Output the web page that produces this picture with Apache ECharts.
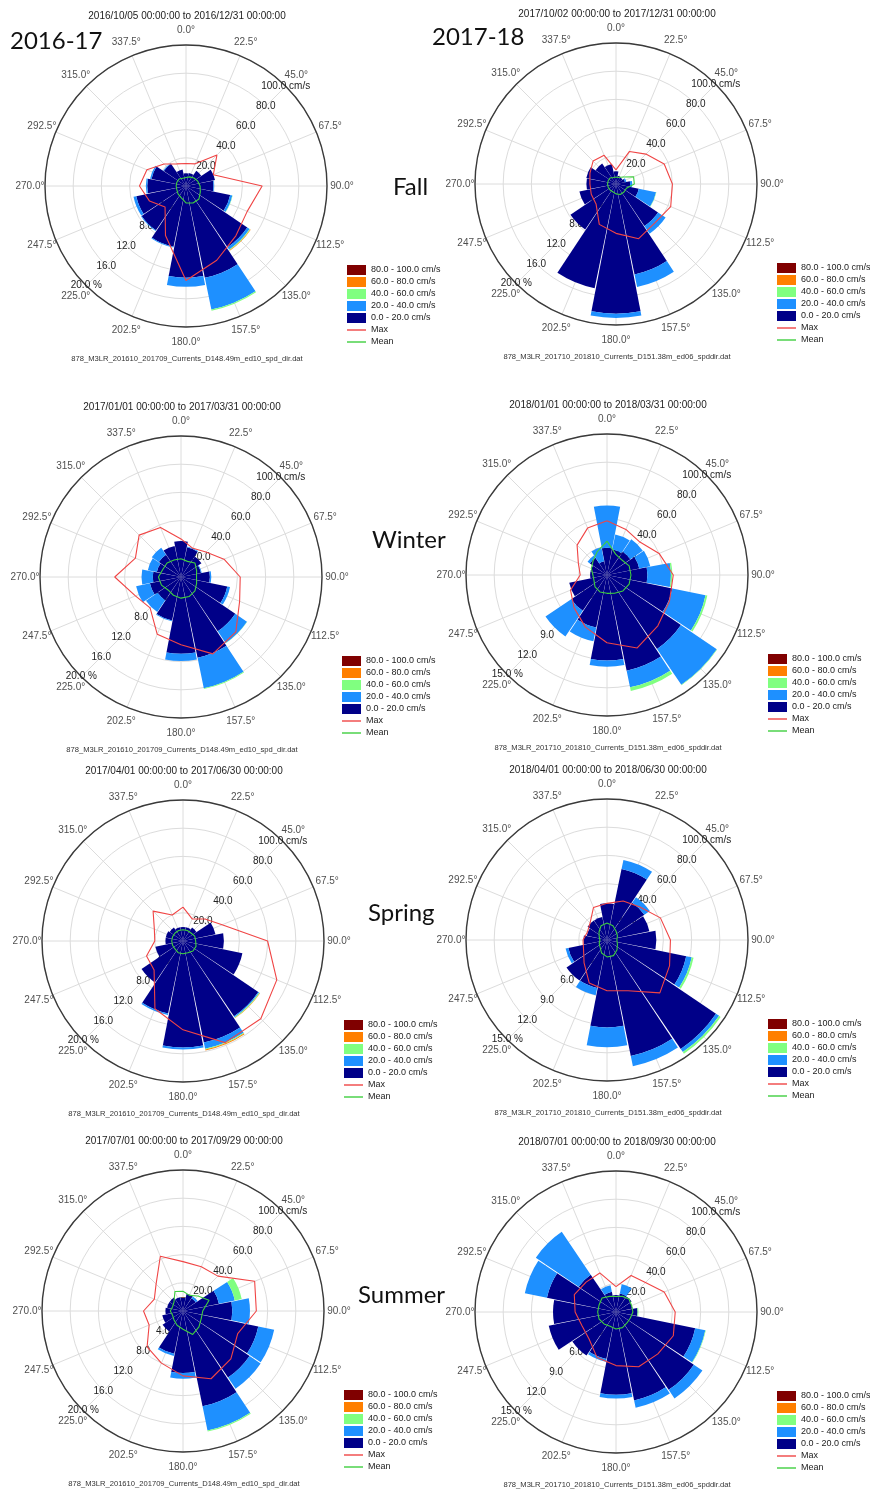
<!DOCTYPE html>
<html><head><meta charset="utf-8">
<script src="https://cdn.jsdelivr.net/npm/echarts@6/dist/echarts.min.js"></script>
<style>html,body{margin:0;padding:0;background:#fff;}#c{width:870px;height:1494px;}</style>
</head><body><div id="c"></div>
<script>
// ---------- data ----------
const DIRS = [0, 22.5, 45, 67.5, 90, 112.5, 135, 157.5, 180, 202.5, 225, 247.5, 270, 292.5, 315, 337.5];
const SPEED_CLASSES = ['0.0 - 20.0 cm/s', '20.0 - 40.0 cm/s', '40.0 - 60.0 cm/s', '60.0 - 80.0 cm/s', '80.0 - 100.0 cm/s'];
const LINE_NAMES = ['Max', 'Mean'];
const SPEED_TICK_MAX = 100;   // cm/s, outer ring
const SPEED_TICK_STEP = 20;

const TITLES = [
  '2016/10/05 00:00:00 to 2016/12/31 00:00:00', '2017/10/02 00:00:00 to 2017/12/31 00:00:00',
  '2017/01/01 00:00:00 to 2017/03/31 00:00:00', '2018/01/01 00:00:00 to 2018/03/31 00:00:00',
  '2017/04/01 00:00:00 to 2017/06/30 00:00:00', '2018/04/01 00:00:00 to 2018/06/30 00:00:00',
  '2017/07/01 00:00:00 to 2017/09/29 00:00:00', '2018/07/01 00:00:00 to 2018/09/30 00:00:00'
];
const FILE_A = '878_M3LR_201610_201709_Currents_D148.49m_ed10_spd_dir.dat';
const FILE_B = '878_M3LR_201710_201810_Currents_D151.38m_ed06_spddir.dat';
const PCT_MAX = [20, 20, 20, 15, 20, 15, 20, 15];
const YEAR_LABELS = ['2016-17', '2017-18'];
const SEASON_LABELS = ['Fall', 'Winter', 'Spring', 'Summer'];

const none80to100 = [0, 0, 0, 0, 0, 0, 0, 0, 0, 0, 0, 0, 0, 0, 0, 0];

// Fall 2016-17
const fall1617_0to20  = [1.8, 1.9, 2.6, 4.2, 3.9, 6.4, 10.5, 13.3, 13.0, 8.8, 7.6, 7.2, 5.5, 5.0, 3.8, 2.4];
const fall1617_20to40 = [0, 0, 0, 0, 0.1, 0.3, 0.4, 4.6, 1.3, 0.1, 0.1, 0.4, 0.2, 0.2, 0.1, 0];
const fall1617_40to60 = [0, 0, 0, 0, 0, 0.05, 0.1, 0.15, 0, 0, 0, 0, 0, 0, 0, 0];
const fall1617_60to80 = [0, 0, 0, 0, 0, 0, 0.08, 0, 0, 0, 0, 0, 0, 0, 0, 0];
const fall1617_max    = [16, 17, 31, 21, 54, 47, 50, 57, 67, 38, 21, 28, 33, 30, 22, 17];
const fall1617_mean   = [6, 7, 8, 9, 10, 11, 13, 13, 12, 9, 8, 7, 7, 7, 7, 6];

// Fall 2017-18
const fall1718_0to20  = [1.8, 1.2, 1.1, 1.3, 2.0, 3.3, 7.2, 13.1, 18.4, 15.1, 7.8, 5.3, 4.2, 4.3, 3.5, 2.9];
const fall1718_20to40 = [0, 0, 0, 0.2, 0.3, 2.5, 1.3, 1.8, 0.6, 0, 0, 0, 0, 0, 0, 0];
const fall1718_40to60 = [0, 0, 0, 0, 0, 0.05, 0, 0, 0, 0, 0, 0, 0, 0, 0, 0];
const fall1718_60to80 = [0, 0, 0, 0, 0, 0, 0, 0, 0, 0, 0, 0, 0, 0, 0, 0];
const fall1718_max    = [10, 25, 30, 37, 40, 42, 39, 42, 35, 31, 20, 19, 18.5, 20, 23, 22];
const fall1718_mean   = [5, 5, 7, 13.5, 13, 8, 8, 8, 7, 6, 6, 6, 6, 6, 6, 5];

// Winter 2016-17
const winter1617_0to20  = [5.1, 4.3, 3.5, 2.9, 4.1, 6.7, 9.3, 11.7, 10.9, 6.3, 4.0, 4.5, 4.0, 3.5, 3.8, 4.5];
const winter1617_20to40 = [0, 0.1, 0, 0.1, 0.2, 0.4, 2.0, 4.4, 1.0, 0.1, 2.0, 2.0, 1.6, 1.3, 1.2, 0];
const winter1617_40to60 = [0, 0, 0, 0, 0, 0, 0.05, 0.12, 0, 0, 0, 0, 0, 0, 0, 0];
const winter1617_60to80 = [0, 0, 0, 0, 0, 0, 0, 0, 0, 0, 0, 0, 0, 0, 0, 0];
const winter1617_max    = [27, 22, 25, 33, 42, 45, 55, 59, 48, 44, 31, 35, 47, 35, 42, 38];
const winter1617_mean   = [13, 12, 14, 12, 11, 12, 14, 15, 15, 14, 13, 15, 16, 14, 14, 13];

// Winter 2017-18
const winter1718_0to20  = [2.9, 2.8, 3.0, 3.5, 4.3, 7.1, 9.5, 10.4, 9.1, 5.7, 4.6, 4.1, 1.8, 1.8, 2.2, 1.5];
const winter1718_20to40 = [4.5, 1.6, 1.6, 1.2, 2.5, 3.6, 4.6, 1.8, 0.65, 1.5, 3.3, 0, 0, 0, 0.3, 1.5];
const winter1718_40to60 = [0, 0, 0, 0, 0.15, 0.2, 0.05, 0.4, 0, 0, 0, 0, 0, 0, 0, 0];
const winter1718_60to80 = [0, 0, 0, 0, 0, 0, 0, 0, 0, 0, 0, 0, 0, 0, 0, 0];
const winter1718_max    = [38.5, 35, 33, 40, 47, 48, 51, 56, 48, 40, 33, 28, 19, 22, 30, 36];
const winter1718_mean   = [24, 16, 15, 17, 17, 17, 16, 14, 13, 13, 12, 10, 10, 12, 14, 18];

// Spring 2016-17
const spring1617_0to20  = [2.0, 2.0, 2.3, 4.7, 5.8, 8.6, 12.9, 14.7, 15.1, 10.5, 7.1, 4.0, 2.5, 2.5, 2.3, 2.0];
const spring1617_20to40 = [0, 0, 0, 0, 0, 0, 0.15, 0.9, 0.3, 0.2, 0, 0, 0, 0, 0, 0];
const spring1617_40to60 = [0, 0, 0, 0, 0, 0, 0.1, 0.1, 0, 0, 0, 0, 0, 0, 0, 0];
const spring1617_60to80 = [0, 0, 0, 0, 0, 0, 0.05, 0.15, 0, 0, 0, 0, 0, 0, 0, 0];
const spring1617_max    = [24, 17, 22, 30, 60, 72, 78, 78, 63, 52, 29, 28, 20, 22, 30, 20];
const spring1617_mean   = [8, 8, 8, 9, 9, 10, 10, 9, 9, 9, 8, 8, 8, 8, 8, 8];

// Spring 2017-18
const spring1718_0to20  = [3.9, 7.7, 4.8, 4.6, 5.25, 8.6, 14.0, 12.6, 9.3, 5.2, 5.2, 4.2, 2.5, 2.2, 2.5, 2.5];
const spring1718_20to40 = [0, 1.0, 0.7, 0, 0, 0.6, 0.4, 1.1, 2.1, 0.8, 0, 0.3, 0, 0, 0, 0];
const spring1718_40to60 = [0, 0, 0, 0, 0, 0.2, 0.2, 0, 0, 0, 0, 0, 0, 0, 0, 0];
const spring1718_60to80 = [0, 0, 0, 0, 0, 0, 0, 0, 0, 0, 0, 0, 0, 0, 0, 0];
const spring1718_max    = [26, 30, 33, 41, 45, 48, 53, 39, 36, 33, 23, 18, 17, 15, 17, 25];
const spring1718_mean   = [12, 11, 9, 8, 7, 8, 10, 12, 12, 10, 7, 6, 5, 6, 8, 11];

// Summer 2016-17
const summer1617_0to20  = [2.0, 2.5, 2.2, 5.2, 7.0, 10.9, 11.4, 13.8, 8.8, 6.2, 3.5, 3.0, 2.5, 2.3, 2.3, 2.0];
const summer1617_20to40 = [0, 0, 0.3, 2.3, 2.5, 2.3, 1.9, 3.5, 0.8, 0.3, 0, 0, 0, 0, 0, 0];
const summer1617_40to60 = [0, 0, 0, 1.0, 0, 0, 0, 0.15, 0, 0, 0, 0, 0, 0, 0, 0];
const summer1617_60to80 = [0, 0, 0, 0, 0, 0, 0, 0, 0, 0, 0, 0, 0, 0, 0, 0];
const summer1617_max    = [35, 34, 35, 55, 52, 42, 48, 52, 46, 40, 36, 26, 28, 22, 27, 42];
const summer1617_mean   = [14, 12, 15, 20, 14, 14, 16, 18, 13, 11, 9, 8, 9, 8, 9, 15];

// Summer 2017-18
const summer1718_0to20  = [1.8, 2.0, 2.0, 1.8, 2.3, 8.6, 10.0, 9.6, 8.8, 5.1, 5.6, 7.3, 6.7, 7.5, 4.8, 2.2];
const summer1718_20to40 = [0, 1.0, 0, 0, 0, 1.1, 1.1, 0.8, 0.4, 0.3, 0, 0, 0, 2.4, 5.5, 0.7];
const summer1718_40to60 = [0, 0, 0, 0, 0.1, 0.05, 0, 0, 0, 0, 0, 0, 0, 0, 0, 0];
const summer1718_60to80 = [0, 0, 0, 0, 0, 0, 0, 0, 0, 0, 0, 0, 0, 0, 0, 0];
const summer1718_max    = [18, 28, 29.5, 37, 42, 44, 42, 42, 38, 35, 27, 26, 29, 32, 30, 30];
const summer1718_mean   = [11, 12, 13, 12, 12, 11, 11, 12, 12, 11, 12, 13, 13, 13, 14, 12];

// ---------- layout / style ----------
const COLORS = ['#000088', '#1e90ff', '#80ff80', '#ff7f00', '#800000'];
const MAX_COLOR = '#f04545';
const MEAN_COLOR = '#3fcf3f';
const FONT = 'Liberation Sans';
const R = 141;                 // plot radius, px
const DIR_LABEL_GAP = 15;      // px beyond the outer ring for direction labels
const DIR_LABEL_R = SPEED_TICK_MAX * (R + DIR_LABEL_GAP) / R;

const PANELS = [
  {cx: 186, cy: 186, bars: [fall1617_0to20, fall1617_20to40, fall1617_40to60, fall1617_60to80, none80to100], max: fall1617_max, mean: fall1617_mean, file: FILE_A},
  {cx: 616, cy: 184, bars: [fall1718_0to20, fall1718_20to40, fall1718_40to60, fall1718_60to80, none80to100], max: fall1718_max, mean: fall1718_mean, file: FILE_B},
  {cx: 181, cy: 577, bars: [winter1617_0to20, winter1617_20to40, winter1617_40to60, winter1617_60to80, none80to100], max: winter1617_max, mean: winter1617_mean, file: FILE_A},
  {cx: 607, cy: 575, bars: [winter1718_0to20, winter1718_20to40, winter1718_40to60, winter1718_60to80, none80to100], max: winter1718_max, mean: winter1718_mean, file: FILE_B},
  {cx: 183, cy: 941, bars: [spring1617_0to20, spring1617_20to40, spring1617_40to60, spring1617_60to80, none80to100], max: spring1617_max, mean: spring1617_mean, file: FILE_A},
  {cx: 607, cy: 940, bars: [spring1718_0to20, spring1718_20to40, spring1718_40to60, spring1718_60to80, none80to100], max: spring1718_max, mean: spring1718_mean, file: FILE_B},
  {cx: 183, cy: 1311, bars: [summer1617_0to20, summer1617_20to40, summer1617_40to60, summer1617_60to80, none80to100], max: summer1617_max, mean: summer1617_mean, file: FILE_A},
  {cx: 616, cy: 1312, bars: [summer1718_0to20, summer1718_20to40, summer1718_40to60, summer1718_60to80, none80to100], max: summer1718_max, mean: summer1718_mean, file: FILE_B}
];

const polar = [], angleAxis = [], radiusAxis = [], series = [], legend = [], graphic = [];

function closedLoop(vals) {
  const pts = DIRS.map((a, i) => [vals[i], a]);
  pts.push([vals[0], 360]);
  return pts;
}

PANELS.forEach((p, k) => {
  const center = [p.cx, p.cy];
  const base = k * 4;
  const pmax = PCT_MAX[k];

  // polar 0: grid, Max/Mean lines (cm/s)
  polar.push({center, radius: R});
  angleAxis.push({
    polarIndex: base, type: 'value', min: 0, max: 360, interval: 22.5, startAngle: 90, clockwise: true,
    axisLine: {show: true, lineStyle: {color: '#3a3a3a', width: 1.4}},
    axisTick: {show: false},
    splitLine: {show: true, lineStyle: {color: '#dcdcdc', width: 1}},
    axisLabel: {show: false}
  });
  radiusAxis.push({
    polarIndex: base, type: 'value', min: 0, max: SPEED_TICK_MAX, interval: SPEED_TICK_STEP,
    axisLine: {show: false}, axisTick: {show: false}, axisLabel: {show: false},
    splitLine: {show: true, lineStyle: {color: '#dcdcdc', width: 1}}
  });

  // polar 1: stacked percentage bars
  polar.push({center, radius: R});
  angleAxis.push({polarIndex: base + 1, type: 'category', data: DIRS.map(String), startAngle: 90 + 11.25, clockwise: true, show: false});
  radiusAxis.push({polarIndex: base + 1, type: 'value', min: 0, max: pmax, show: false});

  // polar 2: speed labels along 45 deg
  polar.push({center, radius: R});
  angleAxis.push({polarIndex: base + 2, type: 'value', min: 0, max: 360, startAngle: 45, show: false});
  radiusAxis.push({
    polarIndex: base + 2, type: 'value', min: 0, max: SPEED_TICK_MAX, interval: SPEED_TICK_STEP,
    axisLine: {show: false}, axisTick: {show: false}, splitLine: {show: false},
    axisLabel: {show: true, margin: 0, align: 'center', verticalAlign: 'middle', color: '#222', fontSize: 10, fontFamily: FONT,
      formatter: v => (v === 0 ? '' : (v === SPEED_TICK_MAX ? Number(v).toFixed(1) + ' cm/s' : Number(v).toFixed(1)))}
  });

  // polar 3: percentage labels along 225 deg
  polar.push({center, radius: R});
  angleAxis.push({polarIndex: base + 3, type: 'value', min: 0, max: 360, startAngle: 225, show: false});
  radiusAxis.push({
    polarIndex: base + 3, type: 'value', min: 0, max: pmax, interval: pmax / 5,
    axisLine: {show: false}, axisTick: {show: false}, splitLine: {show: false},
    axisLabel: {show: true, margin: 0, align: 'center', verticalAlign: 'middle', color: '#222', fontSize: 10, fontFamily: FONT,
      formatter: v => (v === 0 ? '' : (Math.abs(v - pmax) < 1e-9 ? Number(v).toFixed(1) + ' %' : Number(v).toFixed(1)))}
  });

  p.bars.forEach((arr, j) => {
    series.push({
      type: 'bar', coordinateSystem: 'polar', polarIndex: base + 1, name: SPEED_CLASSES[j],
      stack: 'rose' + k, data: arr, barCategoryGap: '3%', silent: true,
      itemStyle: {color: COLORS[j]}
    });
  });
  series.push({type: 'line', coordinateSystem: 'polar', polarIndex: base, name: 'Max', data: closedLoop(p.max),
    symbol: 'none', silent: true, z: 4, color: MAX_COLOR, lineStyle: {color: MAX_COLOR, width: 1.1}, itemStyle: {color: MAX_COLOR}});
  series.push({type: 'line', coordinateSystem: 'polar', polarIndex: base, name: 'Mean', data: closedLoop(p.mean),
    symbol: 'none', silent: true, z: 4, color: MEAN_COLOR, lineStyle: {color: MEAN_COLOR, width: 1.1}, itemStyle: {color: MEAN_COLOR}});
  // direction labels, centred just outside the outer ring
  series.push({type: 'scatter', coordinateSystem: 'polar', polarIndex: base, name: 'direction labels ' + k,
    data: DIRS.map(a => [DIR_LABEL_R, a]), symbolSize: 1, silent: true, clip: false, z: 1,
    itemStyle: {color: 'rgba(0,0,0,0)'},
    label: {show: true, position: 'inside', color: '#222', fontSize: 10, fontFamily: FONT,
      formatter: prm => DIRS[prm.dataIndex].toFixed(1) + '°'}});

  const legText = {fontSize: 9, fontFamily: FONT, color: '#222', lineHeight: 12};
  legend.push({orient: 'vertical', left: p.cx + 161, top: p.cy + 78, padding: 0, itemGap: 0,
    itemWidth: 19, itemHeight: 10, icon: 'rect', selectedMode: false, itemStyle: {borderWidth: 0},
    data: SPEED_CLASSES.slice().reverse(), textStyle: legText});
  legend.push({orient: 'vertical', left: p.cx + 161, top: p.cy + 138, padding: 0, itemGap: 0,
    itemWidth: 19, itemHeight: 1.4, icon: 'rect', selectedMode: false, itemStyle: {borderWidth: 0},
    data: LINE_NAMES, textStyle: legText});

  graphic.push({type: 'text', x: p.cx + 1, y: p.cy - 170, silent: true,
    style: {text: TITLES[k], font: '10px "Liberation Sans"', fill: '#222', align: 'center', verticalAlign: 'middle', textAlign: 'center', textVerticalAlign: 'middle'}});
  graphic.push({type: 'text', x: p.cx + 1, y: p.cy + 173, silent: true,
    style: {text: p.file, font: '7.6px "Liberation Sans"', fill: '#333', align: 'center', verticalAlign: 'middle', textAlign: 'center', textVerticalAlign: 'middle'}});
});

// year and season labels
const BIG_POS = [[10, 41], [432, 37]];
YEAR_LABELS.forEach((t, i) => graphic.push({type: 'text', x: BIG_POS[i][0], y: BIG_POS[i][1], silent: true,
  style: {text: t, font: '24px Lato', fill: '#111', align: 'left', verticalAlign: 'middle', textAlign: 'left', textVerticalAlign: 'middle'}}));
const SEASON_POS = [[393, 187], [372, 540], [368, 913], [358, 1295]];
SEASON_LABELS.forEach((t, i) => graphic.push({type: 'text', x: SEASON_POS[i][0], y: SEASON_POS[i][1], silent: true,
  style: {text: t, font: '24px Lato', fill: '#111', align: 'left', verticalAlign: 'middle', textAlign: 'left', textVerticalAlign: 'middle'}}));

const chart = echarts.init(document.getElementById('c'), null, {renderer: 'canvas', width: 870, height: 1494});
chart.setOption({
  backgroundColor: '#ffffff',
  animation: false,
  textStyle: {fontFamily: FONT},
  polar, angleAxis, radiusAxis, series, legend, graphic
});
</script>
</body></html>
